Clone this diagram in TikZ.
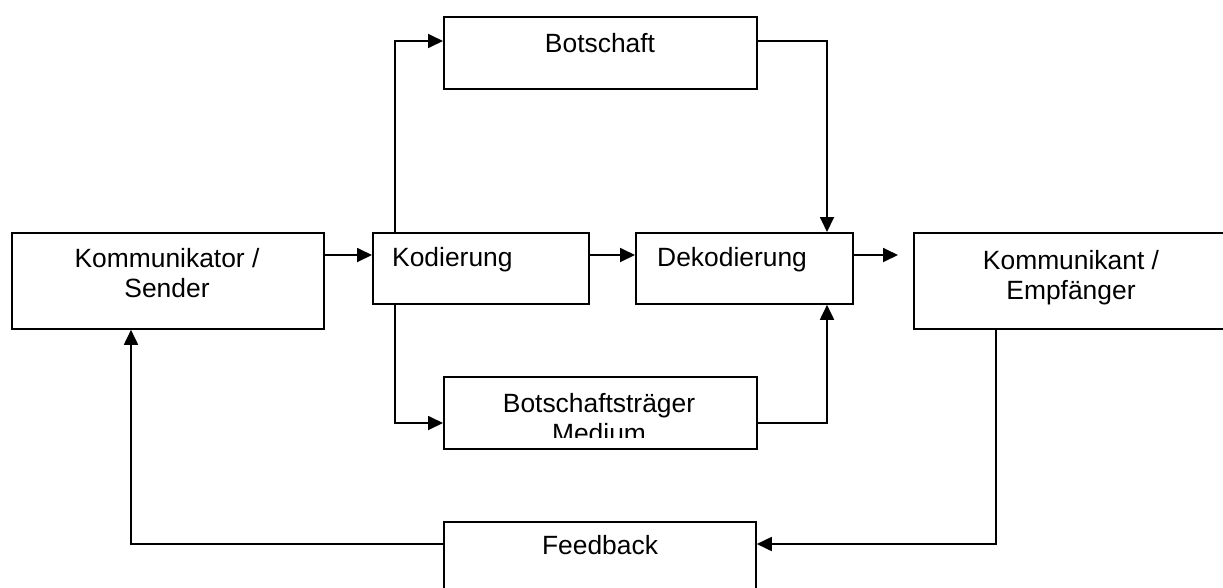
\documentclass[tikz,border=0pt]{standalone}
\usepackage{fontspec}
\setmainfont{Liberation Sans}
\usetikzlibrary{arrows.meta}
\begin{document}
\begin{tikzpicture}[x=1pt,y=-1pt,
  box/.style={draw, line width=1.8pt, rectangle, inner sep=0pt, anchor=north west},
  conn/.style={line width=1.8pt, -{Triangle[length=15pt,width=14pt]}},
  lbl/.style={inner sep=0pt, font=\fontsize{26.4}{30}\selectfont, align=center}]
\clip (0,0) rectangle (1223,587);
% boxes
\node[box, minimum width=312pt, minimum height=96pt] (sender) at (11,232) {};
\node[box, minimum width=216pt, minimum height=71pt] (kod) at (372,232) {};
\node[box, minimum width=217pt, minimum height=71pt] (dek) at (635,232) {};
\node[box, minimum width=313pt, minimum height=96pt] (emp) at (913,232) {};
\node[box, minimum width=313pt, minimum height=72pt] (bot) at (443,16) {};
\node[box, minimum width=313pt, minimum height=72pt] (med) at (443,376) {};
\node[box, minimum width=312pt, minimum height=72pt] (fb) at (443,521) {};
% texts
\node[lbl, anchor=base] (sendert) at (167,297) {Kommunikator /\\Sender};
\node[lbl, anchor=base west] (kodt) at (392,266) {Kodierung};
\node[lbl, anchor=base west] (dekt) at (657,266) {Dekodierung};
\node[lbl, anchor=base] (empt) at (1071,299) {Kommunikant /\\Empfänger};
\node[lbl, anchor=base] (bott) at (600,52) {Botschaft};
\begin{scope}
\clip (445,378) rectangle (754,437);
\node[lbl, anchor=base] (medt) at (599,442) {Botschaftsträger\\Medium};
\end{scope}
\node[lbl, anchor=base] (fbt) at (600,554) {Feedback};
% connectors
\coordinate (dekend) at (898,255);
\draw[conn] (sender.east |- 0,255) -- (kod.west |- 0,255);
\draw[conn] (kod.east |- 0,255) -- (dek.west |- 0,255);
\draw[conn] (dek.east |- 0,255) -- (dekend);
\draw[conn] (395,0 |- kod.north) |- (bot.west |- 0,41);
\draw[conn] (bot.east |- 0,41) -| (827,0 |- dek.north);
\draw[conn] (395,0 |- kod.south) |- (med.west |- 0,423);
\draw[conn] (med.east |- 0,423) -| (827,0 |- dek.south);
\draw[conn] (996,0 |- emp.south) |- (fb.east |- 0,544);
\draw[conn] (fb.west |- 0,544) -| (131,0 |- sender.south);
\end{tikzpicture}
\end{document}
